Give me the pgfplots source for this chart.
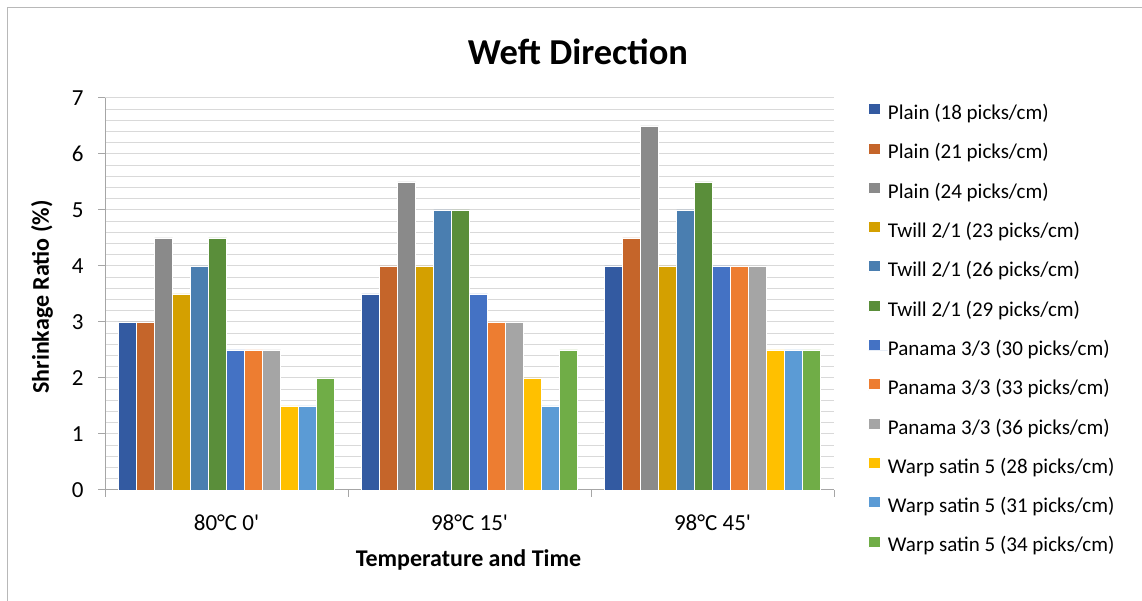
\documentclass[border=0pt]{standalone}
\usepackage{pgfplots}
\pgfplotsset{compat=1.18}
\usepackage{fontspec}
\setmainfont{Carlito}[Ligatures=TeXOff]
\definecolor{c1}{HTML}{335AA1}
\definecolor{c2}{HTML}{C5652A}
\definecolor{c3}{HTML}{8A8A8A}
\definecolor{c4}{HTML}{D4A000}
\definecolor{c5}{HTML}{4A7EB0}
\definecolor{c6}{HTML}{5A8E3A}
\definecolor{c7}{HTML}{4472C4}
\definecolor{c8}{HTML}{ED7D31}
\definecolor{c9}{HTML}{A5A5A5}
\definecolor{c10}{HTML}{FFC000}
\definecolor{c11}{HTML}{5B9BD5}
\definecolor{c12}{HTML}{70AD47}
\definecolor{gridc}{HTML}{D9D9D9}
\definecolor{axc}{HTML}{A6A6A6}
\begin{document}
\begin{tikzpicture}
\useasboundingbox (0,0) rectangle (1142pt,601pt);
\fill[white] (0,0) rectangle (1142pt,601pt);
\draw[axc!80, line width=1pt] (7pt,0) -- (7pt,593pt) -- (1142pt,593pt);
\begin{axis}[
  at={(105pt,111pt)}, anchor=south west,
  scale only axis, width=729pt, height=392pt,
  xmin=-0.5, xmax=2.5, ymin=0, ymax=7,
  axis x line*=bottom, axis y line*=left,
  axis line style={draw=axc, line width=1pt},
  ybar=0pt, bar width=18pt,
  xtick={0,1,2},
  xticklabels={80°C 0',98°C 15',98°C 45'},
  x tick style={draw=none},
  minor xtick={-0.5,0.5,1.5,2.5},
  ytick={0,1,2,3,4,5,6,7},
  minor y tick num=4,
  minor y tick style={draw=none},
  tick align=outside,
  major tick length=7pt, minor tick length=7pt,
  y tick style={draw=axc, line width=1pt},
  minor x tick style={draw=axc, line width=1pt},
  ymajorgrids, yminorgrids,
  major grid style={draw=gridc, line width=1pt},
  minor grid style={draw=gridc, line width=1pt},
  /pgf/number format/assume math mode=true,
  ticklabel style={font=\fontsize{23}{27}\selectfont, text=black},
  xticklabel style={yshift=-14pt},
  yticklabel style={xshift=-11pt},
  legend style={draw=none, fill=none, at={(1.0466,0.987)}, anchor=north west,
    font=\fontsize{21}{24}\selectfont, row sep=17.9pt, column sep=0pt,
    nodes={inner sep=0pt, text height=14pt, text depth=5pt}, inner sep=0pt},
  legend cell align=left,
  legend image code/.code={\fill[#1] (0pt,0.5pt) rectangle (12pt,11.5pt); \path (0pt,0pt) -- (19pt,0pt);},
  every axis plot/.append style={draw=white, line width=0.8pt},
]
\addplot[fill=c1] coordinates {(0,3) (1,3.5) (2,4)};
\addplot[fill=c2] coordinates {(0,3) (1,4) (2,4.5)};
\addplot[fill=c3] coordinates {(0,4.5) (1,5.5) (2,6.5)};
\addplot[fill=c4] coordinates {(0,3.5) (1,4) (2,4)};
\addplot[fill=c5] coordinates {(0,4) (1,5) (2,5)};
\addplot[fill=c6] coordinates {(0,4.5) (1,5) (2,5.5)};
\addplot[fill=c7] coordinates {(0,2.5) (1,3.5) (2,4)};
\addplot[fill=c8] coordinates {(0,2.5) (1,3) (2,4)};
\addplot[fill=c9] coordinates {(0,2.5) (1,3) (2,4)};
\addplot[fill=c10] coordinates {(0,1.5) (1,2) (2,2.5)};
\addplot[fill=c11] coordinates {(0,1.5) (1,1.5) (2,2.5)};
\addplot[fill=c12] coordinates {(0,2) (1,2.5) (2,2.5)};
\legend{Plain (18 picks/cm),Plain (21 picks/cm),Plain (24 picks/cm),Twill 2/1 (23 picks/cm),Twill 2/1 (26 picks/cm),Twill 2/1 (29 picks/cm),Panama 3/3 (30 picks/cm),Panama 3/3 (33 picks/cm),Panama 3/3 (36 picks/cm),Warp satin 5 (28 picks/cm),Warp satin 5 (31 picks/cm),Warp satin 5 (34 picks/cm)}
\end{axis}
\node[font=\bfseries\fontsize{36.5}{40}\selectfont, anchor=base] at (578pt,536pt) {Weft Direction};
\node[font=\bfseries\fontsize{24}{28}\selectfont, rotate=90] at (42pt,304pt) {Shrinkage Ratio (\%)};
\node[font=\bfseries\fontsize{24}{28}\selectfont, anchor=base] at (468.5pt,34pt) {Temperature and Time};
\end{tikzpicture}
\end{document}
